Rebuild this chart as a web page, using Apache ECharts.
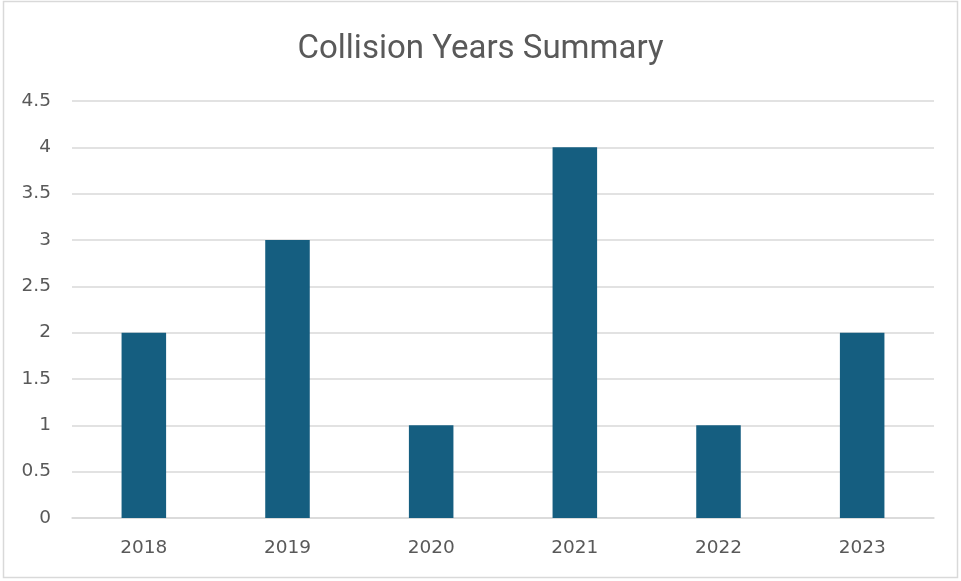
<!DOCTYPE html>
<html>
<head>
<meta charset="utf-8">
<style>
  html, body { margin: 0; padding: 0; background: #fff; }
  #chart { width: 961px; height: 581px; }
</style>
<script src="https://cdn.jsdelivr.net/npm/echarts@6/dist/echarts.min.js"></script>
</head>
<body>
<div id="chart"></div>
<script>
// Collision counts per year
const years = ['2018', '2019', '2020', '2021', '2022', '2023'];
const collisions = [2, 3, 1, 4, 1, 2];

const chart = echarts.init(document.getElementById('chart'), null, { renderer: 'canvas' });

chart.setOption({
  backgroundColor: '#ffffff',
  animation: false,
  graphic: [{
    type: 'rect',
    shape: { x: 3.5, y: 1.5, width: 954, height: 576 },
    style: { fill: 'none', stroke: '#d9d9d9', lineWidth: 1.5 },
    silent: true
  }],
  title: {
    text: 'Collision Years Summary',
    left: 'center',
    top: 28,
    textStyle: {
      fontFamily: 'Roboto',
      fontSize: 33,
      fontWeight: 'normal',
      color: '#595959'
    }
  },
  grid: { left: 72, right: 27, top: 101, bottom: 63 },
  xAxis: {
    type: 'category',
    data: years,
    axisLine: { lineStyle: { color: '#d9d9d9', width: 1.5 } },
    axisTick: { show: false },
    axisLabel: {
      margin: 21,
      fontFamily: 'DejaVu Sans',
      fontSize: 18.5,
      color: '#595959'
    }
  },
  yAxis: {
    type: 'value',
    min: 0,
    max: 4.5,
    interval: 0.5,
    axisLine: { show: false },
    axisTick: { show: false },
    splitLine: { lineStyle: { color: '#d9d9d9', width: 1.5 } },
    axisLabel: {
      margin: 21,
      fontFamily: 'DejaVu Sans',
      fontSize: 18.5,
      color: '#595959'
    }
  },
  series: [{
    type: 'bar',
    data: collisions,
    barWidth: '31%',
    itemStyle: { color: '#155e80' }
  }]
});
</script>
</body>
</html>
